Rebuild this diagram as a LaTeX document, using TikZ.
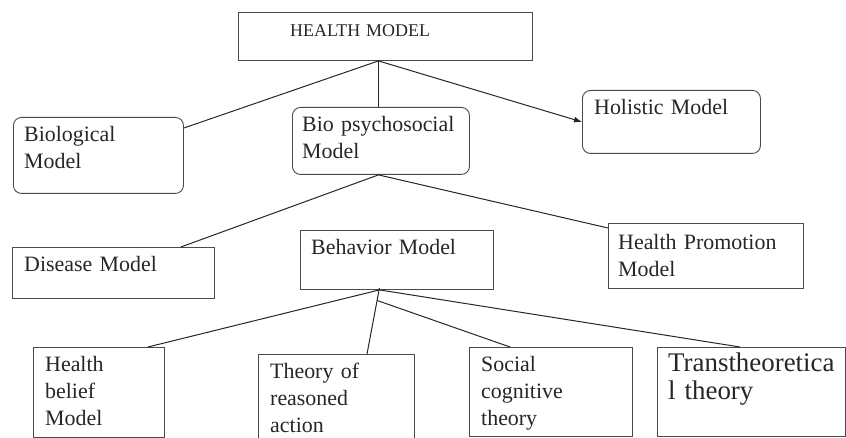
\documentclass[tikz,border=0pt]{standalone}
\usepackage{fontspec}
\setmainfont{Liberation Serif}
\usetikzlibrary{arrows.meta,calc}
\definecolor{ink}{HTML}{262626}
\definecolor{edge}{HTML}{4A4A4A}
\tikzset{
  sqbox/.style={draw=edge, line width=0.9bp, inner sep=0pt, anchor=north west},
  rdbox/.style={sqbox, rounded corners=8bp},
  txt/.style={anchor=base west, inner sep=0pt, text=ink, align=left, text width=#1,
    font=\fontsize{22}{27}\selectfont},
  txt/.default=200bp,
  conn/.style={draw=black!85, line width=1bp},
}
\begin{document}
\begin{tikzpicture}[x=1bp,y=-1bp]
\useasboundingbox (0,0) rectangle (846,438);
\clip (0,0) rectangle (846,438);
% boxes
\node[sqbox, minimum width=294bp, minimum height=48bp] (health) at (238,12) {};
\node[rdbox, minimum width=170bp, minimum height=76bp] (bio) at (13,117) {};
\node[rdbox, minimum width=177bp, minimum height=67bp] (biopsy) at (292,107) {};
\node[rdbox, minimum width=178bp, minimum height=63bp] (holistic) at (582,90) {};
\node[sqbox, minimum width=202bp, minimum height=51bp] (disease) at (12,247) {};
\node[sqbox, minimum width=193bp, minimum height=59bp] (behavior) at (300,230) {};
\node[sqbox, minimum width=195bp, minimum height=65bp] (promo) at (608,223) {};
\node[sqbox, minimum width=131bp, minimum height=90bp] (belief) at (33,347) {};
\node[sqbox, minimum width=156bp, minimum height=110bp] (theory) at (258,354) {};
\node[sqbox, minimum width=163bp, minimum height=89bp] (social) at (469,347) {};
\node[sqbox, minimum width=188bp, minimum height=89bp] (trans) at (657,347) {};
% texts
\node[txt, font=\fontsize{18}{20}\selectfont] (t-health) at (290,37) {HEALTH MODEL};
\node[txt] (t-bio) at (24,142) {Biological\\Model};
\node[txt] (t-biopsy) at (302,132) {Bio psychosocial\\Model};
\node[txt] (t-holistic) at (594,115) {Holistic Model};
\node[txt] (t-disease) at (24,272) {Disease Model};
\node[txt] (t-behavior) at (311,255) {Behavior Model};
\node[txt] (t-promo) at (618,250) {Health Promotion\\Model};
\node[txt] (t-belief) at (45,372) {Health\\belief\\Model};
\node[txt] (t-theory) at (270,379) {Theory of\\reasoned\\action};
\node[txt] (t-social) at (481,372) {Social\\cognitive\\theory};
\node[txt, font=\fontsize{27}{28}\selectfont] (t-trans) at (668,372) {Transtheoretica\\l theory};
% connector junctions
\coordinate (h1) at ([xshift=-7bp]health.south);
\coordinate (b1) at (h1 |- biopsy.south);
\coordinate (c1) at ([xshift=-17.5bp,yshift=2bp]behavior.south);
\coordinate (thtop) at ([xshift=109bp]theory.north west);
\coordinate (c2) at ($(c1)!0.19!(thtop)$);
% connectors
\draw[conn] (h1) -- ([yshift=-11bp]bio.north east);
\draw[conn] (h1) -- (h1 |- biopsy.north);
\draw[conn, -{Latex[length=8bp,width=6bp]}] (h1) -- (holistic.west);
\draw[conn] (b1) -- ([xshift=-34bp]disease.north east);
\draw[conn] (b1) -- ([yshift=-5bp]promo.north west);
\draw[conn] ([yshift=-2bp]c1) -- ([xshift=-17bp]belief.north east);
\draw[conn] ([yshift=-2bp]c1) -- ([xshift=83bp]trans.north west);
\draw[conn] (c1) -- (thtop);
\draw[conn] (c2) -- ([xshift=41bp]social.north west);
\end{tikzpicture}
\end{document}
